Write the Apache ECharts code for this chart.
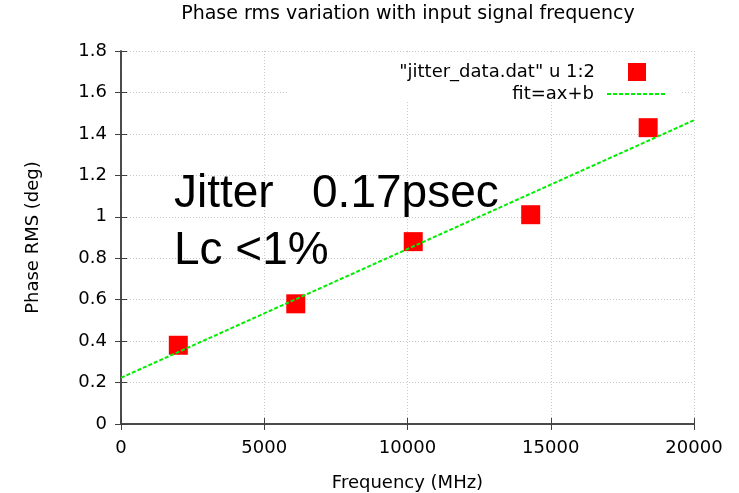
<!DOCTYPE html>
<html>
<head>
<meta charset="utf-8">
<script src="https://cdn.jsdelivr.net/npm/echarts@6/dist/echarts.min.js"></script>
<style>
  html, body { margin: 0; padding: 0; background: #fff; }
  #chart { width: 739px; height: 493px; }
</style>
</head>
<body>
<div id="chart"></div>
<script>
// 测量数据 (MHz, deg)
var freqData = [2000, 6100, 10200, 14300, 18400];
var rmsData = [0.38, 0.58, 0.88, 1.01, 1.43];
// 拟合直线 fit=ax+b 的两个端点
var fitX = [0, 20000];
var fitY = [0.223, 1.466];
var yTicks = [0, 0.2, 0.4, 0.6, 0.8, 1, 1.2, 1.4, 1.6, 1.8];
var xTicks = [0, 5000, 10000, 15000, 20000];

var fontName = 'DejaVu Sans';
var bigFont = 'Liberation Sans';
var frameColor = '#404040';

var myChart = echarts.init(document.getElementById('chart'));

function pairs(xs, ys) {
    var out = [];
    for (var i = 0; i < xs.length; i++) {
        out.push([xs[i], ys[i]]);
    }
    return out;
}

var gridLine = {
    show: true,
    lineStyle: { color: '#c8c8c8', width: 1, type: [1, 2] }
};
var smallText = { fontFamily: fontName, fontSize: 18, color: '#000' };

var option = {
    backgroundColor: '#fff',
    animation: false,
    textStyle: { fontFamily: fontName },
    grid: { left: 121, right: 45, top: 51, bottom: 69, outerBoundsMode: 'none', containLabel: false },
    legend: [{
        data: [{ name: '"jitter_data.dat" u 1:2', icon: 'rect' }],
        right: 88,
        top: 58,
        align: 'right',
        itemWidth: 18,
        itemHeight: 18,
        textStyle: { fontFamily: fontName, fontSize: 18, color: '#000', padding: [0, 28, 0, 0] }
    }, {
        data: [{ name: 'fit=ax+b', itemStyle: { opacity: 0 } }],
        right: 68,
        top: 80,
        align: 'right',
        itemWidth: 58,
        itemHeight: 18,
        textStyle: { fontFamily: fontName, fontSize: 18, color: '#000', padding: [0, 8, 0, 0] }
    }],
    graphic: [{
        // 标题 (以绘图区中心对齐)
        type: 'text',
        x: 408,
        y: 5,
        style: {
            text: 'Phase rms variation with input signal frequency',
            fontFamily: fontName,
            fontSize: 19,
            fill: '#000',
            textAlign: 'center',
            textVerticalAlign: 'top'
        }
    }, {
        // 图例背后的白底 (遮住网格线)
        type: 'rect',
        z: 1,
        shape: { x: 289, y: 52, width: 391, height: 48 },
        style: { fill: '#fff' }
    }, {
        type: 'text',
        z: 10,
        left: 174,
        top: 166,
        style: {
            text: 'Jitter   0.17psec\nLc <1%',
            fontFamily: bigFont,
            fontSize: 46,
            lineHeight: 57,
            fill: '#000'
        }
    }],
    xAxis: [{
        type: 'value',
        min: 0,
        max: 20000,
        interval: 5000,
        name: 'Frequency (MHz)',
        nameLocation: 'middle',
        nameGap: 50,
        nameTextStyle: smallText,
        axisLine: { onZero: false, lineStyle: { color: frameColor, width: 1.5 } },
        axisTick: { inside: true, length: 6, lineStyle: { color: frameColor } },
        axisLabel: {
            margin: 15, fontFamily: fontName, fontSize: 18, color: '#000',
            formatter: function (v) { return String(v); }
        },
        splitLine: gridLine
    }, {
        type: 'value',
        position: 'top',
        min: 0,
        max: 20000,
        interval: 5000,
        z: 3,
        axisLine: { show: true, lineStyle: { color: frameColor, width: 1.5 } },
        axisTick: { inside: true, length: 6, lineStyle: { color: frameColor } },
        axisLabel: { show: false },
        splitLine: { show: false }
    }],
    yAxis: [{
        type: 'value',
        min: 0,
        max: 1.8,
        interval: 0.2,
        name: 'Phase RMS (deg)',
        nameLocation: 'middle',
        nameGap: 79,
        nameTextStyle: smallText,
        axisLine: { show: true, onZero: false, lineStyle: { color: frameColor, width: 1.5 } },
        axisTick: { show: true, inside: true, length: 6, lineStyle: { color: frameColor } },
        axisLabel: {
            margin: 14, fontFamily: fontName, fontSize: 18, color: '#000',
            formatter: function (v) { return String(Math.round(v * 10) / 10); }
        },
        splitLine: gridLine
    }, {
        type: 'value',
        position: 'right',
        min: 0,
        max: 1.8,
        interval: 0.2,
        z: 3,
        axisLine: { show: true, lineStyle: { color: frameColor, width: 1.5 } },
        axisTick: { show: true, inside: true, length: 6, lineStyle: { color: frameColor } },
        axisLabel: { show: false },
        splitLine: { show: false }
    }],
    series: [{
        name: '"jitter_data.dat" u 1:2',
        type: 'scatter',
        symbol: 'rect',
        symbolSize: 19,
        z: 3,
        itemStyle: { color: '#ff0000', opacity: 1 },
        data: pairs(freqData, rmsData)
    }, {
        name: 'fit=ax+b',
        type: 'line',
        symbol: 'none',
        z: 4,
        lineStyle: { color: '#00ee00', width: 2, type: [4, 2] },
        itemStyle: { color: '#00ee00' },
        data: pairs(fitX, fitY)
    }]
};

myChart.setOption(option);
</script>
</body>
</html>
